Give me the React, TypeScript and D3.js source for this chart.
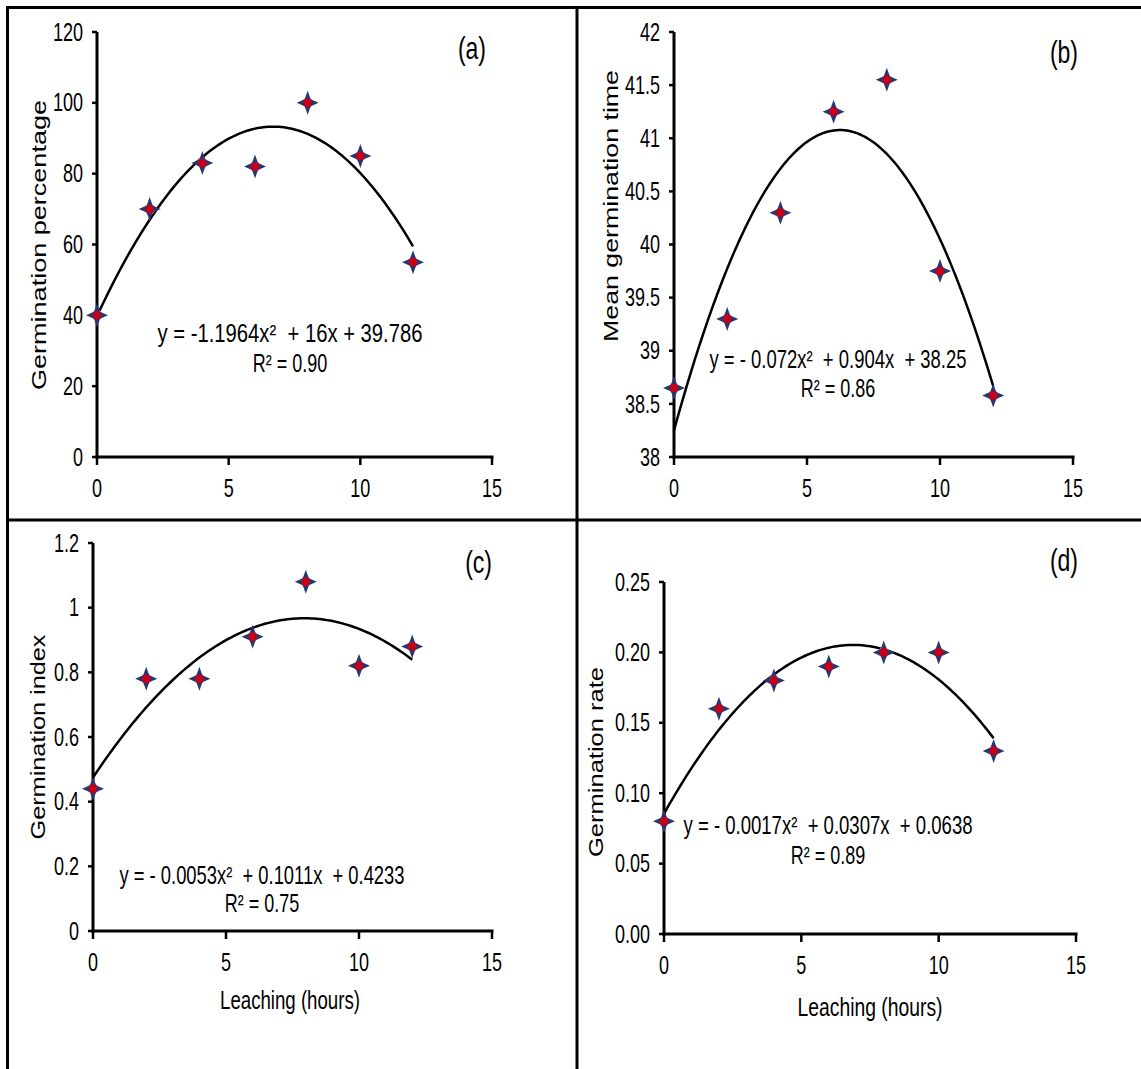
import React from "react";
import * as d3 from "d3";

// Leaching duration (hours) shared by all four panels
const hours = [0, 2, 4, 6, 8, 10, 12];

// Measured responses
const germPercentage = [40, 70, 83, 82, 100, 85, 55];
const meanGermTime = [38.65, 39.3, 40.3, 41.25, 41.55, 39.75, 38.58];
const germIndex = [0.44, 0.78, 0.78, 0.91, 1.08, 0.82, 0.88];
const germRate = [0.08, 0.16, 0.18, 0.19, 0.2, 0.2, 0.13];

// Axis ticks
const xTicks = [0, 5, 10, 15];
const pctTicks = [0, 20, 40, 60, 80, 100, 120];
const mgtTicks = [38, 38.5, 39, 39.5, 40, 40.5, 41, 41.5, 42];
const indexTicks = [0, 0.2, 0.4, 0.6, 0.8, 1, 1.2];
const rateTicks = [0, 0.05, 0.1, 0.15, 0.2, 0.25];

// Trendline annotations
const equations = [
  "y = -1.1964x²  + 16x + 39.786",
  "y = - 0.072x²  + 0.904x  + 38.25",
  "y = - 0.0053x²  + 0.1011x  + 0.4233",
  "y = - 0.0017x²  + 0.0307x  + 0.0638",
];
const rSquared = ["R² = 0.90", "R² = 0.86", "R² = 0.75", "R² = 0.89"];
const panelTags = ["(a)", "(b)", "(c)", "(d)"];
const yTitles = [
  "Germination percentage",
  "Mean germination time",
  "Germination index",
  "Germination rate",
];
const xTitle = "Leaching (hours)";

const FONT = "'Liberation Sans', Arial, sans-serif";
const SY = 1.4; // vertical stretch of the lettering

type Panel = {
  values: number[];
  ticks: number[];
  fmt: (v: number) => string;
  domain: [number, number];
  left: number;
  right: number;
  top: number;
  bottom: number;
  eq: { x: number; y1: number; y2: number; len: number };
  tag: { x: number; y: number };
  yTitle: { x: number; y: number; len: number };
  xTitle?: { x: number; y: number; len: number };
};

const panels: Panel[] = [
  {
    values: germPercentage,
    ticks: pctTicks,
    fmt: (v) => String(v),
    domain: [0, 120],
    left: 97,
    right: 492,
    top: 32,
    bottom: 457,
    eq: { x: 290, y1: 333, y2: 363, len: 265 },
    tag: { x: 486, y: 48 },
    yTitle: { x: 39, y: 245, len: 290 },
  },
  {
    values: meanGermTime,
    ticks: mgtTicks,
    fmt: (v) => String(v),
    domain: [38, 42],
    left: 674,
    right: 1073,
    top: 32,
    bottom: 457,
    eq: { x: 838, y1: 359, y2: 388, len: 257 },
    tag: { x: 1078, y: 52 },
    yTitle: { x: 611, y: 206, len: 272 },
  },
  {
    values: germIndex,
    ticks: indexTicks,
    fmt: (v) => String(v),
    domain: [0, 1.2],
    left: 93,
    right: 492,
    top: 543,
    bottom: 931,
    eq: { x: 262, y1: 875, y2: 903, len: 285 },
    tag: { x: 492, y: 562 },
    yTitle: { x: 38, y: 737, len: 205 },
    xTitle: { x: 290, y: 1000, len: 140 },
  },
  {
    values: germRate,
    ticks: rateTicks,
    fmt: (v) => v.toFixed(2),
    domain: [0, 0.25],
    left: 664,
    right: 1076,
    top: 582,
    bottom: 934,
    eq: { x: 828, y1: 825, y2: 855, len: 289 },
    tag: { x: 1078, y: 560 },
    yTitle: { x: 596, y: 762, len: 190 },
    xTitle: { x: 870, y: 1007, len: 145 },
  },
];

// Least-squares quadratic y = a + b x + c x² through the points
function quadFit(xs: number[], ys: number[]) {
  const s = [0, 0, 0, 0, 0];
  const t = [0, 0, 0];
  xs.forEach((x, i) => {
    for (let k = 0; k < 5; k++) s[k] += Math.pow(x, k);
    for (let k = 0; k < 3; k++) t[k] += Math.pow(x, k) * ys[i];
  });
  const m = [
    [s[0], s[1], s[2], t[0]],
    [s[1], s[2], s[3], t[1]],
    [s[2], s[3], s[4], t[2]],
  ];
  for (let i = 0; i < 3; i++) {
    for (let j = i + 1; j < 3; j++) {
      const f = m[j][i] / m[i][i];
      for (let k = i; k < 4; k++) m[j][k] -= f * m[i][k];
    }
  }
  const c = [0, 0, 0];
  for (let i = 2; i >= 0; i--) {
    let v = m[i][3];
    for (let k = i + 1; k < 3; k++) v -= m[i][k] * c[k];
    c[i] = v / m[i][i];
  }
  return (x: number) => c[0] + c[1] * x + c[2] * x * x;
}

function HText(props: {
  x: number;
  y: number;
  size: number;
  anchor?: string;
  len?: number;
  children: React.ReactNode;
}) {
  const { x, y, size, anchor = "middle", len, children } = props;
  return (
    <text
      transform={`translate(${x},${y}) scale(1,${SY})`}
      textAnchor={anchor}
      dominantBaseline="central"
      fontSize={size}
      fontFamily={FONT}
      fill="#000"
      textLength={len}
      lengthAdjust={len ? "spacingAndGlyphs" : undefined}
      style={{ whiteSpace: "pre" }}
    >
      {children}
    </text>
  );
}

const starPath = "M0,-12 L3,-3.5 L11,0 L3,3.5 L0,12 L-3,3.5 L-11,0 L-3,-3.5 Z";

function Marker({ x, y }: { x: number; y: number }) {
  return (
    <g transform={`translate(${x},${y})`}>
      <path d="M0,-8 L7,0 L0,8 L-7,0 Z" fill="#b9b9d6" />
      <path d={starPath} fill="#25386f" />
      <circle r={4.4} fill="#c4001a" />
    </g>
  );
}

function ChartPanel({ p, i }: { p: Panel; i: number }) {
  const x = d3.scaleLinear().domain([0, 15]).range([p.left, p.right]);
  const y = d3.scaleLinear().domain(p.domain).range([p.bottom, p.top]);
  const fit = quadFit(hours, p.values);
  const samples = d3.range(0, 12.0001, 0.1);
  const line = d3
    .line<number>()
    .x((d) => x(d))
    .y((d) => y(fit(d)));

  return (
    <g>
      {/* axes */}
      <line x1={p.left} x2={p.left} y1={p.top} y2={p.bottom + 1.5} stroke="#000" strokeWidth={3} />
      <line x1={p.left - 1.5} x2={p.right + 1.5} y1={p.bottom} y2={p.bottom} stroke="#000" strokeWidth={3} />
      {p.ticks.map((t) => (
        <g key={`y${t}`}>
          <line x1={p.left - 5} x2={p.left} y1={y(t)} y2={y(t)} stroke="#000" strokeWidth={2.5} />
          <HText x={p.left - 14} y={y(t)} size={18} anchor="end">
            {p.fmt(t)}
          </HText>
        </g>
      ))}
      {xTicks.map((t) => (
        <g key={`x${t}`}>
          <line x1={x(t)} x2={x(t)} y1={p.bottom} y2={p.bottom + 8} stroke="#000" strokeWidth={2.5} />
          <HText x={x(t)} y={p.bottom + 31} size={18}>
            {String(t)}
          </HText>
        </g>
      ))}

      {/* fitted curve */}
      <path d={line(samples) || ""} fill="none" stroke="#000" strokeWidth={2.5} />

      {/* observations */}
      {hours.map((h, k) => (
        <Marker key={k} x={x(h)} y={y(p.values[k])} />
      ))}

      {/* annotations */}
      <HText x={p.eq.x} y={p.eq.y1} size={18} len={p.eq.len}>
        {equations[i]}
      </HText>
      <HText x={p.eq.x} y={p.eq.y2} size={18}>
        {rSquared[i]}
      </HText>
      <HText x={p.tag.x} y={p.tag.y} size={23} anchor="end">
        {panelTags[i]}
      </HText>
      <text
        transform={`translate(${p.yTitle.x},${p.yTitle.y}) rotate(-90) scale(${SY},1)`}
        textAnchor="middle"
        dominantBaseline="central"
        fontSize={21}
        fontFamily={FONT}
        textLength={p.yTitle.len / SY}
        lengthAdjust="spacingAndGlyphs"
      >
        {yTitles[i]}
      </text>
      {p.xTitle && (
        <HText x={p.xTitle.x} y={p.xTitle.y} size={19} len={p.xTitle.len}>
          {xTitle}
        </HText>
      )}
    </g>
  );
}

export default function App() {
  const W = 1141;
  const H = 1069;
  return (
    <svg
      width={W}
      height={H}
      viewBox={`0 0 ${W} ${H}`}
      style={{ position: "absolute", left: 0, top: 0, background: "#fff" }}
    >
      <rect width={W} height={H} fill="#fff" />
      {/* panel frame */}
      <line x1={6} x2={W} y1={7.5} y2={7.5} stroke="#000" strokeWidth={3} />
      <line x1={7.5} x2={7.5} y1={6} y2={H} stroke="#000" strokeWidth={3} />
      <line x1={577} x2={577} y1={6} y2={H} stroke="#000" strokeWidth={3} />
      <line x1={6} x2={W} y1={520} y2={520} stroke="#000" strokeWidth={3} />
      {panels.map((p, i) => (
        <ChartPanel key={i} p={p} i={i} />
      ))}
    </svg>
  );
}
